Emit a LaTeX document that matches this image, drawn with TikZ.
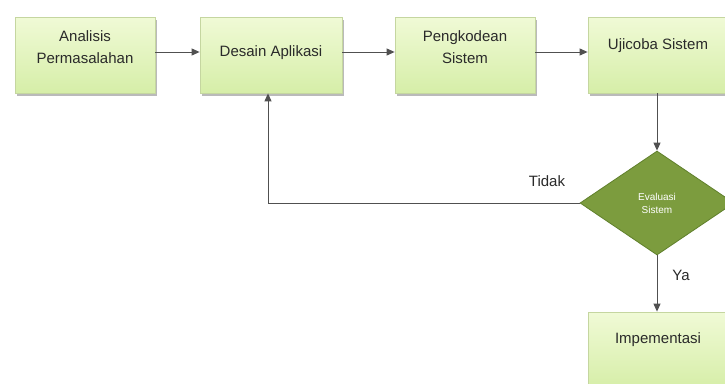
\documentclass[tikz,border=0pt]{standalone}
\usepackage{fontspec}
\setmainfont{Liberation Sans}
\usetikzlibrary{arrows.meta,shapes.geometric,shadows}
\definecolor{boxtop}{HTML}{F0FAD6}
\definecolor{boxbot}{HTML}{D6EEA8}
\definecolor{boxline}{HTML}{C5D6A0}
\definecolor{diafill}{HTML}{7C9C3E}
\definecolor{dialine}{HTML}{60802C}
\definecolor{linec}{HTML}{505050}
\definecolor{txt}{HTML}{2A2A2A}
\begin{document}
\begin{tikzpicture}[x=1pt,y=1pt,
  box/.style={draw=boxline, line width=0.8pt, top color=boxtop, bottom color=boxbot,
    minimum width=140pt, minimum height=76pt, inner sep=0pt,
    drop shadow={shadow xshift=1.5pt, shadow yshift=-2.5pt, fill=black!45, opacity=0.6}},
  lbl/.style={text=txt, font=\fontsize{15}{22}\selectfont, align=center, inner sep=0pt},
  small/.style={text=txt, font=\fontsize{15}{17}\selectfont, inner sep=0pt},
  arr/.style={draw=linec, line width=1pt, -{Triangle[length=8pt,width=7pt]}}]
\useasboundingbox (0,0) rectangle (725,-383);
\fill[white] (0,0) rectangle (725,-383);
% boxes
\node[box] (b1) at (85,-55) {};
\node[box, minimum width=142pt] (b2) at (271,-55) {};
\node[box] (b3) at (465,-55) {};
\node[box] (b4) at (658,-55) {};
\node[box] (b5) at (658,-350) {};
\node[diamond, draw=dialine, line width=0.8pt, fill=diafill, minimum width=154pt,
  minimum height=104pt, inner sep=0pt] (dia) at (657,-203) {};
% labels
\node[lbl] (t1) at ([yshift=8pt]b1.center) {Analisis\\Permasalahan};
\node[lbl] (t2) at ([yshift=2pt]b2.center) {Desain Aplikasi};
\node[lbl] (t3) at ([yshift=8pt]b3.center) {Pengkodean\\Sistem};
\node[lbl] (t4) at ([yshift=9pt]b4.center) {Ujicoba Sistem};
\node[lbl] (t5) at ([yshift=10pt]b5.center) {Impementasi};
\node[text=white, font=\fontsize{10}{13}\selectfont, align=center, inner sep=0pt] (td) at (dia.center) {Evaluasi\\Sistem};
% connectors
\draw[arr] ([yshift=3pt]b1.east) -- ([yshift=3pt]b2.west);
\draw[arr] ([yshift=3pt]b2.east) -- ([yshift=3pt]b3.west);
\draw[arr] ([yshift=3pt]b3.east) -- ([yshift=3pt]b4.west);
\draw[arr] ([xshift=-1pt]b4.south) -- (dia.north);
\draw[arr] (dia.south) -- ([xshift=-1pt]b5.north);
\draw[arr] (dia.west) -| ([xshift=-3pt]b2.south);
\node[small] (tidak) at (547,-181) {Tidak};
\node[small] (ya) at (681,-275) {Ya};
\end{tikzpicture}
\end{document}
